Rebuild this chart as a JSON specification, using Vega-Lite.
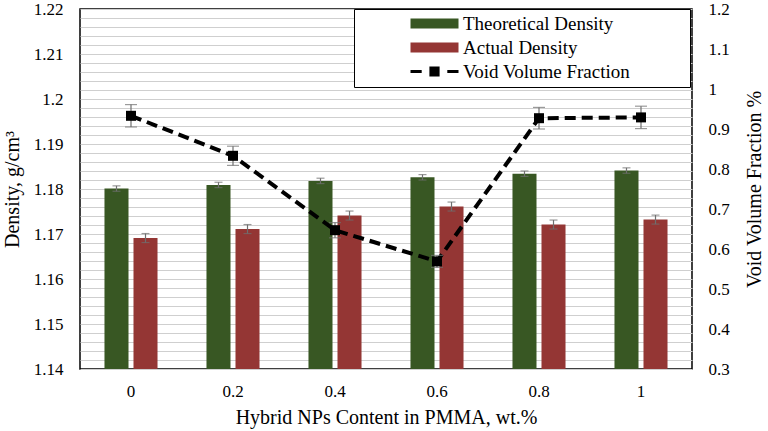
{
  "$schema": "https://vega.github.io/schema/vega-lite/v6.json",
  "autosize": {"type": "none"},
  "width": 612,
  "height": 360,
  "padding": {"left": 80, "top": 9, "right": 76, "bottom": 62},
  "background": "white",
  "config": {
    "font": "Liberation Serif",
    "view": {"stroke": "black", "strokeWidth": 1.5},
    "axis": {"labelColor": "black", "titleColor": "black", "titleFontWeight": "normal", "labelFont": "Liberation Serif", "titleFont": "Liberation Serif"},
    "axisRight": {
      "values": [0.3, 0.4, 0.5, 0.6, 0.7, 0.8, 0.9, 1, 1.1, 1.2],
      "format": "~g", "labelOverlap": false, "grid": false, "domain": false, "ticks": false, "tickSize": 0,
      "labelPadding": 16, "labelFontSize": 17,
      "titleFontSize": 20, "titlePadding": 35, "titleAngle": 270
    }
  },
  "datasets": {
    "bars": [
      {"x": "0", "series": "Theoretical Density", "value": 1.1801, "lo": 1.1795, "hi": 1.1807},
      {"x": "0", "series": "Actual Density", "value": 1.1691, "lo": 1.1681, "hi": 1.1701},
      {"x": "0.2", "series": "Theoretical Density", "value": 1.1809, "lo": 1.1803, "hi": 1.1815},
      {"x": "0.2", "series": "Actual Density", "value": 1.1711, "lo": 1.1701, "hi": 1.1721},
      {"x": "0.4", "series": "Theoretical Density", "value": 1.1818, "lo": 1.1812, "hi": 1.1824},
      {"x": "0.4", "series": "Actual Density", "value": 1.1741, "lo": 1.1731, "hi": 1.1751},
      {"x": "0.6", "series": "Theoretical Density", "value": 1.1826, "lo": 1.182, "hi": 1.1832},
      {"x": "0.6", "series": "Actual Density", "value": 1.1761, "lo": 1.1751, "hi": 1.1771},
      {"x": "0.8", "series": "Theoretical Density", "value": 1.1834, "lo": 1.1828, "hi": 1.184},
      {"x": "0.8", "series": "Actual Density", "value": 1.1721, "lo": 1.1711, "hi": 1.1731},
      {"x": "1", "series": "Theoretical Density", "value": 1.1841, "lo": 1.1835, "hi": 1.1847},
      {"x": "1", "series": "Actual Density", "value": 1.1732, "lo": 1.1722, "hi": 1.1742}
    ],
    "void": [
      {"x": "0", "vvf": 0.933, "lo": 0.905, "hi": 0.961},
      {"x": "0.2", "vvf": 0.833, "lo": 0.809, "hi": 0.857},
      {"x": "0.4", "vvf": 0.647, "lo": 0.628, "hi": 0.666},
      {"x": "0.6", "vvf": 0.569, "lo": 0.554, "hi": 0.584},
      {"x": "0.8", "vvf": 0.927, "lo": 0.9, "hi": 0.954},
      {"x": "1", "vvf": 0.929, "lo": 0.901, "hi": 0.957}
    ]
  },
  "encoding": {
    "x": {
      "field": "x", "type": "nominal",
      "scale": {"domain": ["0", "0.2", "0.4", "0.6", "0.8", "1"], "paddingInner": 0.48, "paddingOuter": 0.24},
      "axis": {"title": "Hybrid  NPs Content in PMMA, wt.%", "labelAngle": 0, "ticks": false, "domain": false, "grid": false, "labelPadding": 14, "labelFontSize": 17, "titleFontSize": 20, "titlePadding": 8}
    }
  },
  "layer": [
    {
      "data": {"name": "bars"},
      "encoding": {
        "xOffset": {"field": "series", "type": "nominal", "scale": {"domain": ["Theoretical Density", "Actual Density"], "paddingInner": 0.172, "paddingOuter": 0}}
      },
      "layer": [
        {
          "mark": {"type": "bar", "clip": true},
          "encoding": {
            "y": {
              "field": "value", "type": "quantitative",
              "scale": {"domain": [1.14, 1.22], "nice": false, "zero": false},
              "axis": {"orient": "left", "title": "Density, g/cm³", "values": [1.14, 1.142, 1.144, 1.146, 1.148, 1.15, 1.152, 1.154, 1.156, 1.158, 1.16, 1.162, 1.164, 1.166, 1.168, 1.17, 1.172, 1.174, 1.176, 1.178, 1.18, 1.182, 1.184, 1.186, 1.188, 1.19, 1.192, 1.194, 1.196, 1.198, 1.2, 1.202, 1.204, 1.206, 1.208, 1.21, 1.212, 1.214, 1.216, 1.218, 1.22], "labelExpr": "abs(datum.value * 100 - round(datum.value * 100)) < 0.001 ? format(datum.value, '.2~f') : ''", "labelOverlap": false, "grid": true, "gridColor": "#cfcfcf", "gridWidth": 1, "gridOpacity": 1, "domain": false, "ticks": false, "tickSize": 0, "labelPadding": 17, "labelFontSize": 17, "titleFontSize": 20, "titlePadding": 11}
            },
            "color": {
              "field": "series", "type": "nominal",
              "scale": {"domain": ["Theoretical Density", "Actual Density", "Void Volume Fraction"], "range": ["#385723", "#943634", "#000000"]},
              "legend": {
                "orient": "none", "legendX": 274, "legendY": 0, "direction": "vertical",
                "title": " ", "titleOrient": "right", "titlePadding": 55,
                "fillColor": "white", "strokeColor": "black",
                "padding": 5, "rowPadding": 4, "clipHeight": 19,
                "symbolSize": 256, "symbolOffset": 66, "labelOffset": 19, "labelLimit": 400,
                "labelFont": "Liberation Serif", "labelFontSize": 19, "labelColor": "black",
                "encode": {
                  "symbols": {
                    "update": {
                      "shape": {"signal": "datum.label === 'Void Volume Fraction' ? 'M-3,0H-1.6M-0.45,-0.45H0.45V0.45H-0.45ZM1.6,0H3' : 'M-3,-0.625H3V0.625H-3Z'"},
                      "fill": {"signal": "datum.label === 'Void Volume Fraction' ? 'black' : (datum.label === 'Actual Density' ? '#943634' : '#385723')"},
                      "stroke": {"value": "black"},
                      "strokeWidth": {"signal": "datum.label === 'Void Volume Fraction' ? 3 : 0"},
                      "opacity": {"value": 1}
                    }
                  }
                }
              }
            }
          }
        },
        {
          "mark": {"type": "rule", "color": "#6f6f6f", "strokeWidth": 1.2},
          "encoding": {"y": {"field": "lo", "type": "quantitative", "axis": {"orient": "left", "title": "Density, g/cm³", "values": [1.14, 1.142, 1.144, 1.146, 1.148, 1.15, 1.152, 1.154, 1.156, 1.158, 1.16, 1.162, 1.164, 1.166, 1.168, 1.17, 1.172, 1.174, 1.176, 1.178, 1.18, 1.182, 1.184, 1.186, 1.188, 1.19, 1.192, 1.194, 1.196, 1.198, 1.2, 1.202, 1.204, 1.206, 1.208, 1.21, 1.212, 1.214, 1.216, 1.218, 1.22], "labelExpr": "abs(datum.value * 100 - round(datum.value * 100)) < 0.001 ? format(datum.value, '.2~f') : ''", "labelOverlap": false, "grid": true, "gridColor": "#cfcfcf", "gridWidth": 1, "gridOpacity": 1, "domain": false, "ticks": false, "tickSize": 0, "labelPadding": 17, "labelFontSize": 17, "titleFontSize": 20, "titlePadding": 11}}, "y2": {"field": "hi"}}
        },
        {
          "mark": {"type": "tick", "color": "#6f6f6f", "size": 8, "thickness": 1.2},
          "encoding": {"y": {"field": "lo", "type": "quantitative", "axis": {"orient": "left", "title": "Density, g/cm³", "values": [1.14, 1.142, 1.144, 1.146, 1.148, 1.15, 1.152, 1.154, 1.156, 1.158, 1.16, 1.162, 1.164, 1.166, 1.168, 1.17, 1.172, 1.174, 1.176, 1.178, 1.18, 1.182, 1.184, 1.186, 1.188, 1.19, 1.192, 1.194, 1.196, 1.198, 1.2, 1.202, 1.204, 1.206, 1.208, 1.21, 1.212, 1.214, 1.216, 1.218, 1.22], "labelExpr": "abs(datum.value * 100 - round(datum.value * 100)) < 0.001 ? format(datum.value, '.2~f') : ''", "labelOverlap": false, "grid": true, "gridColor": "#cfcfcf", "gridWidth": 1, "gridOpacity": 1, "domain": false, "ticks": false, "tickSize": 0, "labelPadding": 17, "labelFontSize": 17, "titleFontSize": 20, "titlePadding": 11}}}
        },
        {
          "mark": {"type": "tick", "color": "#6f6f6f", "size": 8, "thickness": 1.2},
          "encoding": {"y": {"field": "hi", "type": "quantitative", "axis": {"orient": "left", "title": "Density, g/cm³", "values": [1.14, 1.142, 1.144, 1.146, 1.148, 1.15, 1.152, 1.154, 1.156, 1.158, 1.16, 1.162, 1.164, 1.166, 1.168, 1.17, 1.172, 1.174, 1.176, 1.178, 1.18, 1.182, 1.184, 1.186, 1.188, 1.19, 1.192, 1.194, 1.196, 1.198, 1.2, 1.202, 1.204, 1.206, 1.208, 1.21, 1.212, 1.214, 1.216, 1.218, 1.22], "labelExpr": "abs(datum.value * 100 - round(datum.value * 100)) < 0.001 ? format(datum.value, '.2~f') : ''", "labelOverlap": false, "grid": true, "gridColor": "#cfcfcf", "gridWidth": 1, "gridOpacity": 1, "domain": false, "ticks": false, "tickSize": 0, "labelPadding": 17, "labelFontSize": 17, "titleFontSize": 20, "titlePadding": 11}}}
        }
      ]
    },
    {
      "data": {"name": "void"},
      "layer": [
        {
          "mark": {"type": "line", "strokeWidth": 4, "strokeDash": [11, 6], "strokeCap": "butt"},
          "encoding": {
            "y": {
              "field": "vvf", "type": "quantitative",
              "scale": {"domain": [0.3, 1.2], "nice": false, "zero": false},
              "axis": {"orient": "right", "title": "Void Volume Fraction %", "grid": false}
            },
            "color": {"datum": "Void Volume Fraction"}
          }
        },
        {
          "mark": {"type": "rule", "color": "#6f6f6f", "strokeWidth": 1.2},
          "encoding": {"y": {"field": "lo", "type": "quantitative", "axis": {"orient": "right", "title": "Void Volume Fraction %", "grid": false}}, "y2": {"field": "hi"}}
        },
        {
          "mark": {"type": "tick", "color": "#6f6f6f", "size": 12, "thickness": 1.2},
          "encoding": {"y": {"field": "lo", "type": "quantitative", "axis": {"orient": "right", "title": "Void Volume Fraction %", "grid": false}}}
        },
        {
          "mark": {"type": "tick", "color": "#6f6f6f", "size": 12, "thickness": 1.2},
          "encoding": {"y": {"field": "hi", "type": "quantitative", "axis": {"orient": "right", "title": "Void Volume Fraction %", "grid": false}}}
        },
        {
          "mark": {"type": "point", "shape": "square", "filled": true, "size": 100, "color": "black", "opacity": 1},
          "encoding": {"y": {"field": "vvf", "type": "quantitative", "axis": {"orient": "right", "title": "Void Volume Fraction %", "grid": false}}}
        }
      ]
    }
  ],
  "resolve": {"scale": {"y": "independent"}}
}
